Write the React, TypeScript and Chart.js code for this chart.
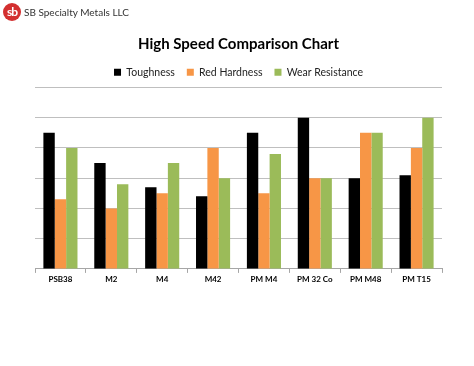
import React, { useEffect, useRef } from "react";
import { Chart, registerables } from "chart.js";

Chart.register(...registerables);

const categories = ["PSB38", "M2", "M4", "M42", "PM M4", "PM 32 Co", "PM M48", "PM T15"];
const toughness = [4.5, 3.5, 2.7, 2.4, 4.5, 5.0, 3.0, 3.1];
const redHardness = [2.3, 2.0, 2.5, 4.0, 2.5, 3.0, 4.5, 4.0];
const wearResistance = [4.0, 2.8, 3.5, 3.0, 3.8, 3.0, 4.5, 5.0];
const seriesNames = ["Toughness", "Red Hardness", "Wear Resistance"];
const seriesColors = ["#000000", "#f79646", "#9bbb59"];

export default function App() {
  const ref = useRef<HTMLCanvasElement | null>(null);
  useEffect(() => {
    if (!ref.current) return;
    const values = [toughness, redHardness, wearResistance];
    const chart = new Chart(ref.current, {
      type: "bar",
      data: {
        labels: categories,
        datasets: values.map((v, i) => ({
          label: seriesNames[i],
          data: v,
          backgroundColor: seriesColors[i],
          borderWidth: 0,
          categoryPercentage: 0.67,
          barPercentage: 1.0,
        })),
      },
      options: {
        responsive: false,
        animation: false,
        layout: { padding: { left: 35, right: 32, top: 0, bottom: 79.5 } },
        plugins: {
          tooltip: { enabled: false },
          title: {
            display: true,
            text: "High Speed Comparison Chart",
            color: "#000",
            font: { family: "Lato", size: 15, weight: "bold" },
            padding: { top: 35, bottom: 2 },
          },
          legend: {
            display: true,
            labels: {
              boxWidth: 7,
              boxHeight: 7,
              color: "#222",
              font: { family: "Lato", size: 10.5 },
              padding: 12,
            },
          },
        },
        scales: {
          x: {
            grid: {
              display: true,
              drawOnChartArea: false,
              drawTicks: true,
              tickLength: 4,
              color: "#a6a6a6",
            },
            border: { display: true, color: "#a6a6a6", width: 1 },
            ticks: {
              color: "#000",
              font: { family: "Lato", size: 8, weight: "bold" },
              padding: 2,
              maxRotation: 0,
              autoSkip: false,
            },
          },
          y: {
            min: 0,
            max: 6,
            ticks: { display: false, stepSize: 1 },
            grid: { color: "#bfbfbf", drawTicks: false, lineWidth: 1 },
            border: { display: false },
          },
        },
      },
    });
    return () => chart.destroy();
  }, []);

  return (
    <div style={{ position: "fixed", left: 0, top: 0, width: 474, height: 366, background: "#fff" }}>
      <div style={{ position: "absolute", left: 3, top: 3, display: "flex", alignItems: "center" }}>
        <div
          style={{
            width: 18,
            height: 18,
            borderRadius: "50%",
            background: "#d32f2f",
            color: "#fff",
            fontFamily: "Lato",
            fontWeight: "bold",
            fontSize: 12,
            lineHeight: "18px",
            textAlign: "center",
            letterSpacing: -1,
          }}
        >
          sb
        </div>
        <span style={{ marginLeft: 3, fontFamily: "Lato", fontSize: 10, color: "#333" }}>
          SB Specialty Metals LLC
        </span>
      </div>
      <canvas ref={ref} width={474} height={366} style={{ width: 474, height: 366, display: "block" }} />
    </div>
  );
}
